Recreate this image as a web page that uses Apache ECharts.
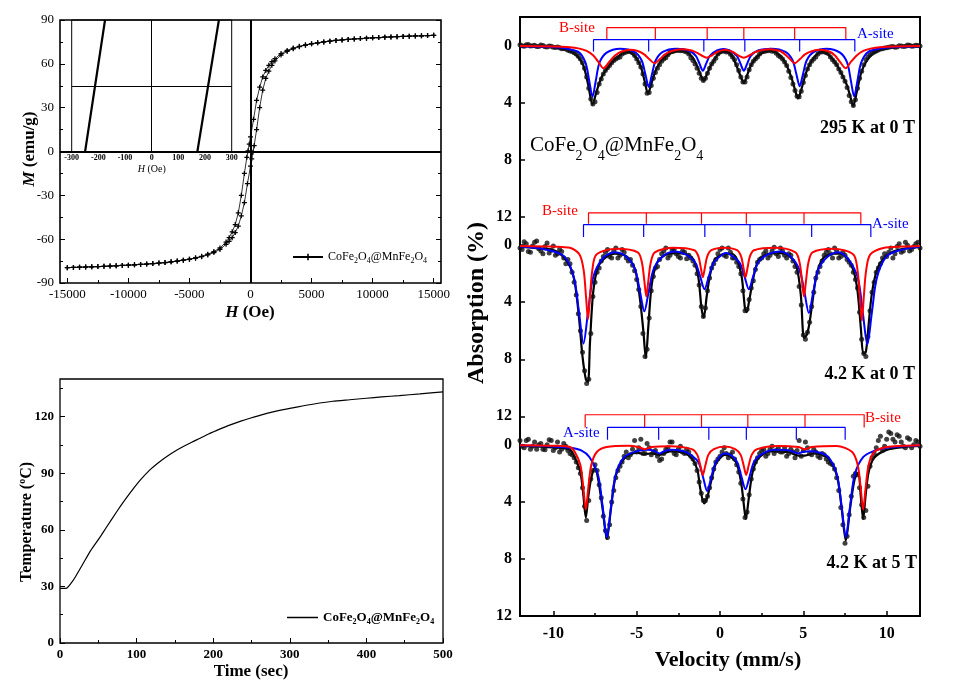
<!DOCTYPE html>
<html><head><meta charset="utf-8">
<script src="https://cdn.jsdelivr.net/npm/echarts@6/dist/echarts.min.js"></script>
<style>html,body{margin:0;padding:0;background:#fff}#c{width:960px;height:688px}</style>
</head><body><div id="c"></div>
<script>
// ---------- Panel (a): M-H hysteresis ----------
const hUpper = [15000,14500,14000,13500,13000,12500,12000,11500,11000,10500,10000,9500,9000,8500,8000,7500,7000,6500,6000,5500,5000,4500,4000,3500,3000,2500,2000,1750,1500,1250,1000,750,500,250,0,-100,-200,-300,-500,-750,-1000,-1250,-1500,-1750,-2000,-2500,-3000,-3500,-4000,-4500,-5000,-5500,-6000,-6500,-7000,-7500,-8000,-8500,-9000,-9500,-10000,-10500,-11000,-11500,-12000,-12500,-13000,-13500,-14000,-14500,-15000];
const mUpper = [79.5,79.35,79.2,79.05,78.9,78.75,78.6,78.4,78.2,78.0,77.8,77.55,77.3,77.0,76.7,76.35,76.0,75.5,75.0,74.4,73.8,73.0,72.0,70.8,69.2,67.0,63.5,61.5,59,55.5,51,44,35,22,10,5,0.5,-4,-15,-30,-42,-50,-55,-59,-62,-66,-68.5,-70.3,-71.7,-72.8,-73.7,-74.4,-75.0,-75.5,-76.0,-76.35,-76.7,-77.0,-77.3,-77.55,-77.8,-78.0,-78.2,-78.4,-78.6,-78.75,-78.9,-79.05,-79.2,-79.35,-79.5];
const hLower = [-15000,-14500,-14000,-13500,-13000,-12500,-12000,-11500,-11000,-10500,-10000,-9500,-9000,-8500,-8000,-7500,-7000,-6500,-6000,-5500,-5000,-4500,-4000,-3500,-3000,-2500,-2000,-1750,-1500,-1250,-1000,-750,-500,-250,0,100,200,300,500,750,1000,1250,1500,1750,2000,2500,3000,3500,4000,4500,5000,5500,6000,6500,7000,7500,8000,8500,9000,9500,10000,10500,11000,11500,12000,12500,13000,13500,14000,14500,15000];
const mLower = [-79.5,-79.35,-79.2,-79.05,-78.9,-78.75,-78.6,-78.4,-78.2,-78.0,-77.8,-77.55,-77.3,-77.0,-76.7,-76.35,-76.0,-75.5,-75.0,-74.4,-73.8,-73.0,-72.0,-70.8,-69.2,-67.0,-63.5,-61.5,-59,-55.5,-51,-44,-35,-22,-10,-5,-0.5,4,15,30,42,50,55,59,62,66,68.5,70.3,71.7,72.8,73.7,74.4,75.0,75.5,76.0,76.35,76.7,77.0,77.3,77.55,77.8,78.0,78.2,78.4,78.6,78.75,78.9,79.05,79.2,79.35,79.5];
const hTicks = [-15000,-10000,-5000,0,5000,10000,15000];
const hMinorTicks = [-12500,-7500,-2500,2500,7500,12500];
// inset (zoom on coercive field)
const insetLeftH = [-250,-175];
const insetRightH = [171,252];
const insetM = [-10,10];

// ---------- Panel (b): heating curve ----------
const timeSec = [0,8,15,20,30,40,52,60,74,85,96,105,117,128,139,150,161,172,183,194,204,215,226,237,248,260,270,285,300,318,335,356,378,400,420,443,470,500];
const tempC = [29,29,32,35,42,49,56,61,69.6,76,82,86.5,91.7,95.5,98.8,101.7,104.2,106.5,108.6,110.8,112.6,114.5,116.2,117.8,119.2,120.6,121.8,123.2,124.4,125.8,127,128.2,129,129.8,130.5,131.2,132.1,133.2];
const tempTicks = [0,30,60,90,120];
const tempMinorTicks = [15,45,75,105,135];

// ---------- Panel (c): Mossbauer spectra ----------
const velocity = [-12,-11.75,-11.5,-11.25,-11,-10.75,-10.5,-10.25,-10,-9.75,-9.5,-9.25,-9,-8.75,-8.5,-8.25,-8,-7.75,-7.5,-7.25,-7,-6.75,-6.5,-6.25,-6,-5.75,-5.5,-5.25,-5,-4.75,-4.5,-4.25,-4,-3.75,-3.5,-3.25,-3,-2.75,-2.5,-2.25,-2,-1.75,-1.5,-1.25,-1,-0.75,-0.5,-0.25,0,0.25,0.5,0.75,1,1.25,1.5,1.75,2,2.25,2.5,2.75,3,3.25,3.5,3.75,4,4.25,4.5,4.75,5,5.25,5.5,5.75,6,6.25,6.5,6.75,7,7.25,7.5,7.75,8,8.25,8.5,8.75,9,9.25,9.5,9.75,10,10.25,10.5,10.75,11,11.25,11.5,11.75,12];
const velocityHalf = [
 -11.875,-11.625,-11.375,-11.125,-10.875,-10.625,-10.375,-10.125,
 -9.875,-9.625,-9.375,-9.125,-8.875,-8.625,-8.375,-8.125,
 -7.875,-7.625,-7.375,-7.125,-6.875,-6.625,-6.375,-6.125,
 -5.875,-5.625,-5.375,-5.125,-4.875,-4.625,-4.375,-4.125,
 -3.875,-3.625,-3.375,-3.125,-2.875,-2.625,-2.375,-2.125,
 -1.875,-1.625,-1.375,-1.125,-0.875,-0.625,-0.375,-0.125,
 0.125,0.375,0.625,0.875,1.125,1.375,1.625,1.875,
 2.125,2.375,2.625,2.875,3.125,3.375,3.625,3.875,
 4.125,4.375,4.625,4.875,5.125,5.375,5.625,5.875,
 6.125,6.375,6.625,6.875,7.125,7.375,7.625,7.875,
 8.125,8.375,8.625,8.875,9.125,9.375,9.625,9.875,
 10.125,10.375,10.625,10.875,11.125,11.375,11.625,11.875];
const dots295K = [-0.05,0.05,-0.08,0.02,0.06,-0.04,0.08,0.03,0.12,0.1,0.22,0.25,0.38,0.5,0.75,1.2,2.2,3.75,3.95,2.7,2.0,1.55,1.2,0.95,0.8,0.5,0.4,0.5,0.95,1.5,2.7,3.3,2.3,1.6,1.1,0.85,0.45,0.38,0.33,0.35,0.45,0.85,1.3,1.95,2.45,1.95,1.3,0.9,0.45,0.38,0.42,0.8,1.35,2.2,2.55,1.7,1.1,0.8,0.45,0.38,0.33,0.38,0.7,0.95,1.4,2.25,3.15,3.6,2.6,1.65,1.1,0.8,0.45,0.42,0.55,1.0,1.35,1.9,2.5,3.5,4.2,3.0,1.8,1.0,0.65,0.45,0.32,0.22,0.15,0.08,0.12,0.02,0.06,-0.04,0.05,-0.02,0.04];
const dots295KHalf = [
 0.02,-0.06,0.04,-0.02,0.07,0.0,0.1,0.05,
 0.14,0.16,0.2,0.33,0.42,0.6,0.95,1.6,
 3.0,4.1,3.3,2.35,1.75,1.4,1.05,0.85,
 0.6,0.45,0.42,0.7,1.2,2.0,3.35,2.8,
 1.9,1.35,0.95,0.65,0.42,0.35,0.37,0.4,
 0.6,1.05,1.6,2.3,2.3,1.6,1.1,0.6,
 0.4,0.45,0.62,1.0,1.75,2.55,2.2,1.35,
 0.95,0.6,0.42,0.36,0.4,0.55,0.8,1.15,
 1.8,2.7,3.55,3.2,2.1,1.35,0.95,0.6,
 0.45,0.5,0.8,1.15,1.65,2.2,2.95,3.95,
 3.8,2.3,1.35,0.8,0.55,0.38,0.25,0.18,
 0.12,0.06,0.1,0.03,0.05,-0.02,0.03,0.0];
const dots42K0T = [0.2,-0.25,0.45,0.05,-0.3,0.4,0.1,0.55,0.05,0.6,0.45,1.3,1.3,2.6,4.8,7.5,9.7,6.2,2.6,1.6,0.8,0.3,0.9,0.2,0.7,0.5,1.1,1.4,2.4,4.3,7.8,5.1,2.2,1.5,0.6,0.2,0.7,0.3,0.8,0.4,0.95,0.9,1.4,2.8,5.0,3.2,1.6,1.0,0.3,0.7,0.2,0.9,1.2,2.0,4.6,3.8,2.5,1.2,0.9,0.4,0.7,0.15,0.8,0.4,0.9,0.7,1.5,2.9,6.3,6.1,4.3,2.3,1.5,0.7,0.3,0.9,0.4,0.8,0.7,1.2,1.9,3.0,6.6,7.8,4.6,2.6,1.6,0.9,0.8,0.2,0.6,-0.1,0.4,0.0,0.3,-0.1,0.2];
const dots42K0THalf = [
 0.3,-0.1,0.5,-0.2,0.25,0.6,-0.15,0.35,
 0.7,0.3,0.9,1.0,1.9,3.5,6.0,8.8,
 9.4,3.6,1.9,1.1,0.5,0.8,0.4,0.9,
 0.3,0.9,1.0,1.8,3.1,6.2,7.3,3.2,
 1.6,1.0,0.4,0.9,0.3,0.6,0.9,0.5,
 0.7,1.1,2.0,4.3,4.4,2.3,1.3,0.6,
 0.2,0.8,0.5,0.9,1.5,3.2,4.5,3.0,
 1.7,1.0,0.6,0.9,0.4,0.6,0.2,0.7,
 0.6,1.1,1.9,4.2,6.6,5.4,3.3,1.9,
 1.1,0.5,0.6,0.2,0.9,0.5,1.0,1.4,
 2.4,4.7,7.6,6.4,3.3,1.9,1.3,0.6,
 0.5,0.9,0.1,0.5,-0.2,0.4,0.1,-0.2];
const dots42K5T = [-0.3,0.2,-0.4,0.1,0.3,-0.1,0.35,-0.35,0.4,-0.2,0.3,0.1,0.6,0.9,1.6,3.0,5.3,2.4,1.4,2.8,5.0,6.5,4.0,2.3,1.5,0.8,0.9,0.3,0.5,-0.4,0.6,0.2,0.5,0.8,1.0,0.3,-0.2,0.6,0.3,0.5,0.3,0.8,1.3,2.6,3.9,3.6,2.3,1.2,0.8,0.2,0.9,0.5,1.4,2.7,5.1,3.5,1.7,0.9,0.4,0.8,0.3,0.6,0.2,0.5,0.8,0.3,0.9,-0.3,0.4,0.2,0.7,0.5,0.9,0.7,1.2,1.4,2.3,4.4,6.9,4.9,2.2,2.1,4.2,4.6,1.5,0.6,-0.3,0.4,-0.4,-0.8,-0.2,-0.6,0.1,-0.5,0.2,-0.3,0.1];
const dots42K5THalf = [
 0.1,-0.3,0.3,-0.2,0.0,0.3,0.0,-0.3,
 0.2,0.5,-0.1,0.4,0.7,1.2,2.0,4.3,
 3.9,1.8,1.8,3.7,6.0,5.6,3.2,1.8,
 1.2,0.5,0.7,-0.3,0.2,0.6,-0.1,0.7,
 0.4,1.1,0.6,0.2,-0.2,0.7,0.1,0.6,
 0.5,1.0,1.8,3.4,3.9,3.0,1.7,1.0,
 0.5,0.6,0.7,1.0,1.9,3.8,4.7,2.4,
 1.2,0.6,0.3,0.6,0.1,0.4,0.5,0.2,
 0.6,0.5,0.4,0.8,-0.2,0.6,0.3,0.8,
 0.6,1.0,1.3,1.7,3.2,5.6,6.4,3.6,
 2.0,3.0,5.1,2.9,0.9,0.2,-0.6,0.1,
 -0.9,-0.4,-0.7,-0.2,0.2,-0.4,0.0,-0.2];

const fit295K = [[-12,0.05],[-10,0.12],[-9.2,0.3],[-8.6,0.7],[-8.2,1.4],[-7.9,2.8],[-7.65,4.14],[-7.4,3.2],[-7.1,2.2],[-6.7,1.5],[-6.2,0.85],[-5.6,0.45],[-5.1,0.75],[-4.75,1.5],[-4.52,2.5],[-4.32,3.38],[-4.1,2.6],[-3.8,1.6],[-3.4,0.9],[-2.9,0.5],[-2.3,0.35],[-1.7,0.75],[-1.35,1.5],[-1.15,2.1],[-0.97,2.46],[-0.78,2.0],[-0.5,1.3],[-0.1,0.6],[0.3,0.4],[0.7,0.7],[1.05,1.6],[1.25,2.2],[1.43,2.62],[1.62,2.1],[1.9,1.3],[2.3,0.7],[3.0,0.35],[3.6,0.7],[4.0,1.4],[4.3,2.3],[4.5,3.1],[4.68,3.72],[4.9,3.0],[5.2,1.8],[5.6,0.9],[6.1,0.45],[6.6,0.75],[7.0,1.35],[7.35,2.1],[7.62,2.8],[7.8,3.5],[7.99,4.23],[8.2,3.3],[8.5,1.8],[8.9,0.9],[9.4,0.4],[10.2,0.15],[12,0.05]];
const bSite295K = [[-12,0.03],[-10,0.06],[-9,0.12],[-8.5,0.2],[-8,0.38],[-7.6,0.7],[-7.3,1.15],[-6.99,1.59],[-6.65,1.15],[-6.3,0.7],[-5.9,0.42],[-5.4,0.3],[-4.9,0.4],[-4.55,0.62],[-4.25,0.95],[-3.92,1.24],[-3.6,0.95],[-3.3,0.62],[-2.9,0.38],[-2.3,0.26],[-1.7,0.35],[-1.4,0.5],[-1.1,0.7],[-0.81,0.85],[-0.5,0.7],[-0.2,0.47],[0.3,0.3],[0.8,0.47],[1.1,0.7],[1.43,0.85],[1.75,0.7],[2.05,0.5],[2.4,0.35],[3.0,0.26],[3.6,0.38],[3.9,0.62],[4.2,0.95],[4.48,1.24],[4.8,0.95],[5.1,0.62],[5.5,0.4],[6.0,0.3],[6.55,0.42],[6.9,0.7],[7.2,1.15],[7.54,1.59],[7.85,1.15],[8.2,0.7],[8.6,0.38],[9.1,0.2],[9.6,0.12],[10.5,0.06],[12,0.03]];
const aSite295K = [[-12,0.05],[-10,0.1],[-9.3,0.2],[-8.5,0.45],[-8.07,1.2],[-7.85,2.45],[-7.65,3.6],[-7.45,2.45],[-7.23,1.2],[-6.8,0.5],[-6.0,0.22],[-5.13,0.45],[-4.7,1.05],[-4.48,2.0],[-4.28,2.9],[-4.08,2.0],[-3.86,1.05],[-3.43,0.45],[-2.65,0.22],[-1.88,0.35],[-1.45,0.72],[-1.23,1.27],[-1.03,1.77],[-0.83,1.27],[-0.61,0.72],[-0.18,0.35],[0.2,0.25],[0.58,0.35],[1.01,0.72],[1.23,1.27],[1.43,1.77],[1.63,1.27],[1.85,0.72],[2.28,0.35],[3.1,0.22],[3.93,0.45],[4.36,1.05],[4.58,2.0],[4.78,2.85],[4.98,2.0],[5.2,1.05],[5.63,0.45],[6.4,0.22],[7.2,0.5],[7.63,1.2],[7.85,2.45],[8.05,3.56],[8.25,2.45],[8.47,1.2],[8.9,0.45],[9.7,0.2],[10.5,0.1],[12,0.05]];

const fit42K0T = [[-12,0.12],[-11,0.2],[-10,0.35],[-9.5,0.7],[-9.0,1.5],[-8.7,2.7],[-8.45,5.2],[-8.25,7.8],[-8.05,9.4],[-7.92,9.6],[-7.8,6.8],[-7.6,3.2],[-7.3,1.5],[-6.8,0.8],[-6.3,0.6],[-5.6,0.8],[-5.1,1.7],[-4.8,3.8],[-4.6,6.0],[-4.45,7.9],[-4.3,5.7],[-4.1,2.8],[-3.8,1.3],[-3.3,0.7],[-2.7,0.55],[-2.1,0.6],[-1.6,1.0],[-1.3,2.25],[-1.1,4.5],[-0.97,5.05],[-0.8,3.6],[-0.6,2.1],[-0.3,1.0],[0.3,0.6],[0.7,0.6],[1.0,0.95],[1.3,2.2],[1.5,4.45],[1.6,4.7],[1.75,3.9],[2.0,2.3],[2.3,1.1],[2.9,0.6],[3.6,0.55],[4.2,0.8],[4.6,1.55],[4.85,3.5],[5.04,6.5],[5.2,6.3],[5.35,5.6],[5.55,3.95],[5.8,2.05],[6.2,0.9],[6.8,0.6],[7.2,0.6],[7.6,0.85],[8.0,1.75],[8.25,3.2],[8.45,5.8],[8.6,7.6],[8.75,7.5],[8.9,5.8],[9.1,3.5],[9.4,1.8],[9.8,0.95],[10.4,0.45],[11,0.25],[12,0.12]];
const bSite42K0T = [[-12,0.05],[-10,0.1],[-9,0.18],[-8.43,0.65],[-8.18,1.75],[-8.04,3.6],[-7.92,5.2],[-7.8,3.6],[-7.66,1.75],[-7.41,0.65],[-6.2,0.25],[-4.93,0.5],[-4.68,1.25],[-4.54,2.5],[-4.42,3.6],[-4.3,2.5],[-4.16,1.25],[-3.91,0.5],[-2.8,0.18],[-1.54,0.35],[-1.29,0.8],[-1.15,1.6],[-1.03,2.25],[-0.91,1.6],[-0.77,0.8],[-0.52,0.35],[0.25,0.18],[1.02,0.35],[1.27,0.8],[1.41,1.6],[1.53,2.25],[1.65,1.6],[1.79,0.8],[2.04,0.35],[3.3,0.18],[4.53,0.5],[4.78,1.25],[4.92,2.5],[5.04,3.6],[5.16,2.5],[5.3,1.25],[5.55,0.5],[6.8,0.25],[8.0,0.65],[8.25,1.75],[8.39,3.6],[8.51,5.3],[8.63,3.6],[8.77,1.75],[9.02,0.65],[9.8,0.2],[11,0.1],[12,0.05]];
const aSite42K0T = [[-12,0.1],[-10.5,0.3],[-9.33,0.8],[-8.76,2.3],[-8.46,4.7],[-8.19,6.9],[-7.92,4.7],[-7.62,2.3],[-7.05,0.95],[-6.35,0.5],[-5.68,0.75],[-5.11,1.65],[-4.81,3.2],[-4.54,4.64],[-4.27,3.2],[-3.97,1.65],[-3.4,0.75],[-2.7,0.45],[-2.07,0.65],[-1.5,1.2],[-1.2,2.15],[-0.93,3.09],[-0.66,2.15],[-0.36,1.2],[0.21,0.6],[0.4,0.55],[0.59,0.65],[1.16,1.2],[1.46,2.15],[1.73,3.09],[2.0,2.15],[2.3,1.2],[2.87,0.65],[3.55,0.45],[4.19,0.75],[4.76,1.7],[5.06,3.25],[5.33,4.76],[5.6,3.25],[5.9,1.7],[6.47,0.8],[7.1,0.5],[7.7,1.0],[8.27,2.3],[8.57,4.75],[8.84,6.96],[9.11,4.75],[9.41,2.3],[9.98,0.8],[10.8,0.35],[12,0.1]];

const fit42K5T = [[-12,0.07],[-10,0.18],[-9,0.35],[-8.71,0.9],[-8.38,1.9],[-8.2,3.5],[-8.05,5.1],[-7.9,3.6],[-7.72,2.3],[-7.5,1.6],[-7.32,2.35],[-7.04,4.5],[-6.79,6.6],[-6.54,4.45],[-6.26,2.2],[-5.74,0.95],[-5.0,0.55],[-4.52,0.65],[-4.1,0.6],[-3.63,0.7],[-3.0,0.45],[-2.2,0.55],[-1.69,0.95],[-1.36,1.75],[-1.18,3.1],[-0.95,4.1],[-0.77,3.7],[-0.52,2.5],[-0.24,1.3],[0.28,0.7],[0.6,0.8],[1.0,1.3],[1.28,2.75],[1.45,4.4],[1.55,5.2],[1.72,3.8],[1.95,1.95],[2.3,0.95],[3.0,0.45],[4.1,0.5],[4.7,0.75],[5.1,0.75],[5.6,0.6],[6.0,0.65],[6.5,0.95],[7.02,2.2],[7.3,4.45],[7.55,6.7],[7.8,4.5],[8.08,2.4],[8.3,1.95],[8.44,3.5],[8.59,5.2],[8.74,3.5],[8.92,1.9],[9.25,0.9],[10,0.35],[11,0.15],[12,0.07]];
const bSite42K5T = [[-12,0.02],[-10,0.06],[-9,0.15],[-8.71,0.5],[-8.38,1.4],[-8.2,3.0],[-8.05,4.53],[-7.9,3.0],[-7.72,1.4],[-7.39,0.5],[-6.8,0.15],[-5.5,0.06],[-4.9,0.15],[-4.52,0.3],[-4.1,0.15],[-3.0,0.1],[-1.69,0.3],[-1.36,0.7],[-1.18,1.45],[-1.03,2.11],[-0.88,1.45],[-0.7,0.7],[-0.37,0.3],[0.3,0.12],[0.91,0.3],[1.24,0.7],[1.42,1.45],[1.57,2.11],[1.72,1.45],[1.9,0.7],[2.23,0.3],[3.5,0.08],[4.7,0.15],[5.1,0.3],[5.5,0.15],[7.0,0.08],[7.93,0.5],[8.26,1.4],[8.44,3.0],[8.59,4.53],[8.74,3.0],[8.92,1.4],[9.25,0.5],[10,0.15],[11,0.06],[12,0.02]];
const aSite42K5T = [[-12,0.05],[-10,0.12],[-9,0.2],[-8.3,0.4],[-7.84,0.85],[-7.32,2.1],[-7.04,4.35],[-6.79,6.48],[-6.54,4.35],[-6.26,2.1],[-5.74,0.85],[-5.0,0.45],[-4.3,0.35],[-3.9,0.45],[-3.63,0.6],[-3.36,0.45],[-2.9,0.35],[-2.2,0.45],[-1.82,0.65],[-1.3,1.2],[-1.02,2.25],[-0.77,3.24],[-0.52,2.25],[-0.24,1.2],[0.28,0.6],[0.48,0.62],[1.0,1.15],[1.28,2.2],[1.53,3.12],[1.78,2.2],[2.06,1.15],[2.58,0.6],[3.3,0.35],[4.1,0.38],[4.45,0.5],[4.7,0.6],[4.95,0.5],[5.4,0.45],[6.0,0.55],[6.5,0.85],[7.02,2.1],[7.3,4.35],[7.55,6.48],[7.8,4.35],[8.08,2.1],[8.6,0.85],[9.3,0.4],[10,0.2],[11,0.1],[12,0.05]];

// stick diagrams (line positions, mm/s) and bracket levels [top, bottom] in % absorption
const sticksB295K = [-6.79,-3.88,-0.77,1.43,4.48,7.55];
const sticksA295K = [-7.59,-4.28,-0.97,1.49,4.78,8.09];
const sticksB42K0T = [-7.89,-4.42,-1.11,1.58,5.04,8.45];
const sticksA42K0T = [-8.19,-4.58,-0.91,1.8,5.5,9.05];
const sticksB42K5T = [-8.09,-4.52,-1.11,1.67,5.1,8.65];
const sticksA42K5T = [-6.75,-3.68,-0.67,1.58,4.58,7.51];
const levelsB295K = [-1.26,-0.46], levelsA295K = [-0.41,0.42];
const levelsB42K0T = [-2.27,-1.51], levelsA42K0T = [-1.44,-0.58];
const levelsB42K5T = [-2.11,-1.22], levelsA42K5T = [-1.22,-0.35];

const spectrumOffsets = [0,14,28];
const absTickValues = [0,4,8,12,14,18,22,26,28,32,36,40];
const absTickText = ['0','4','8','12','0','4','8','12','0','4','8','12'];
const velTicks = [-10,-5,0,5,10];
const velMinorTicks = [-7.5,-2.5,2.5,7.5];

// ---------- build ----------
const FONT = '"Liberation Serif","Times New Roman",serif';
const RED = '#ff0000', BLUE = '#0000ff';
const loopData = hUpper.map((h,i)=>[h,mUpper[i]]).concat(hLower.map((h,i)=>[h,mLower[i]]));
const heatData = timeSec.map((t,i)=>[t,tempC[i]]);
const shift = (pairs, off) => pairs.map(p=>[p[0], p[1]+off]);
const dotsOf = (grid, vals, off) => grid.map((v,i)=>[v, vals[i]+off]).filter(p=>isFinite(p[1]));
function bracket(pos, lv, off){
  const pts=[];
  pos.forEach((p,i)=>{ if(i===0){pts.push([p,lv[1]+off],[p,lv[0]+off]);} else {pts.push([p,lv[0]+off],[p,lv[1]+off],[p,lv[0]+off]);} });
  return pts;
}
const PLUS = 'path://M3,0h2v8h-2zM0,3h8v2h-8z';
const lblCommon = {fontFamily:FONT,color:'#000'};

const spectra = [
  {dots:dots295K, dotsH:dots295KHalf, fit:fit295K, b:bSite295K, a:aSite295K, sb:sticksB295K, sa:sticksA295K, lb:levelsB295K, la:levelsA295K},
  {dots:dots42K0T, dotsH:dots42K0THalf, fit:fit42K0T, b:bSite42K0T, a:aSite42K0T, sb:sticksB42K0T, sa:sticksA42K0T, lb:levelsB42K0T, la:levelsA42K0T},
  {dots:dots42K5T, dotsH:dots42K5THalf, fit:fit42K5T, b:bSite42K5T, a:aSite42K5T, sb:sticksB42K5T, sa:sticksA42K5T, lb:levelsB42K5T, la:levelsA42K5T}
];
const specSeries = [];
spectra.forEach((s,k)=>{
  const off = spectrumOffsets[k];
  const ax = {xAxisIndex:4, yAxisIndex:5, silent:true, animation:false};
  specSeries.push(Object.assign({type:'line', name:'fit'+k, data:shift(s.fit,off), smooth:0.3, symbol:'none', lineStyle:{color:'#000', width:2.2}, z:2}, ax));
  specSeries.push(Object.assign({type:'scatter', name:'data'+k, data:dotsOf(velocity,s.dots,off).concat(dotsOf(velocityHalf,s.dotsH,off)), symbolSize:5, itemStyle:{color:'#111'}, z:3}, ax));
  specSeries.push(Object.assign({type:'line', name:'A'+k, data:shift(s.a,off), smooth:0.3, symbol:'none', lineStyle:{color:BLUE, width:2}, z:4}, ax));
  specSeries.push(Object.assign({type:'line', name:'B'+k, data:shift(s.b,off), smooth:0.3, symbol:'none', lineStyle:{color:RED, width:2}, z:5}, ax));
  specSeries.push(Object.assign({type:'line', name:'sticksB'+k, data:bracket(s.sb,s.lb,off), symbol:'none', lineStyle:{color:RED, width:1.2}, z:5}, ax));
  specSeries.push(Object.assign({type:'line', name:'sticksA'+k, data:bracket(s.sa,s.la,off), symbol:'none', lineStyle:{color:BLUE, width:1.2}, z:5}, ax));
});

const chemRich = (size, sub, lh, bold) => ({
  n:{fontFamily:FONT, fontSize:size, lineHeight:lh, color:'#000', fontWeight:bold?'bold':'normal'},
  s:{fontFamily:FONT, fontSize:sub, lineHeight:sub, verticalAlign:'bottom', color:'#000', fontWeight:bold?'bold':'normal'}
});
const chemText = '{n|CoFe}{s|2}{n|O}{s|4}{n|@MnFe}{s|2}{n|O}{s|4}';
const noLine = {show:false, onZero:false};

const option = {
  animation:false,
  backgroundColor:'#fff',
  grid:[
    {left:60, top:20, width:381, height:263, show:true, borderColor:'#000', borderWidth:1.6},
    {left:71.7, top:20, width:160, height:132, show:true, borderColor:'#000', borderWidth:1, backgroundColor:'transparent'},
    {left:60, top:379, width:383, height:264, show:true, borderColor:'#000', borderWidth:1.3},
    {left:520, top:17, width:400, height:599, show:true, borderColor:'#000', borderWidth:2}
  ],
  legend:[
    {data:['loop'], left:287, top:246, itemWidth:30, itemHeight:8, itemGap:4, selectedMode:false,
     formatter:()=>chemText, textStyle:{rich:chemRich(12,8,16,false)}},
    {data:['heating'], left:282, top:606, itemWidth:31, itemHeight:1.5, selectedMode:false, icon:'rect',
     formatter:()=>chemText, textStyle:{rich:chemRich(13,8,17,true)}}
  ],
  xAxis:[
    {gridIndex:0, type:'value', position:'bottom', min:-15600, max:15600, axisLine:noLine, splitLine:{show:false},
     axisTick:{inside:true, length:5, customValues:hTicks, lineStyle:{color:'#000'}},
     axisLabel:Object.assign({customValues:hTicks, fontSize:13, margin:5, formatter:(v)=>String(v)}, lblCommon)},
    {gridIndex:0, type:'value', position:'bottom', min:-15600, max:15600, axisLine:noLine, splitLine:{show:false},
     axisTick:{inside:true, length:3, customValues:hMinorTicks, lineStyle:{color:'#000'}}, axisLabel:{show:false}},
    {gridIndex:1, type:'value', position:'bottom', min:-300, max:300, interval:100, axisLine:noLine, splitLine:{show:false}, axisTick:{show:false},
     axisLabel:Object.assign({fontSize:8, fontWeight:'bold', margin:2}, lblCommon),
     name:'{i|H} (Oe)', nameLocation:'middle', nameGap:12,
     nameTextStyle:{fontFamily:FONT, fontSize:10, color:'#000', rich:{i:{fontFamily:FONT, fontSize:10, fontStyle:'italic', color:'#000'}}}},
    {gridIndex:2, type:'value', position:'bottom', min:0, max:500, interval:100, axisLine:noLine, splitLine:{show:false},
     axisTick:{inside:true, length:5, lineStyle:{color:'#000'}}, minorTick:{show:true, splitNumber:2, length:3, lineStyle:{color:'#000'}},
     axisLabel:Object.assign({fontSize:13, fontWeight:'bold', margin:5}, lblCommon)},
    {gridIndex:3, type:'value', position:'bottom', min:-12, max:12, axisLine:noLine, splitLine:{show:false},
     axisTick:{inside:true, length:5, customValues:velTicks, lineStyle:{color:'#000', width:1.5}},
     axisLabel:Object.assign({customValues:velTicks, fontSize:16, fontWeight:'bold', margin:10}, lblCommon)},
    {gridIndex:3, type:'value', position:'bottom', min:-12, max:12, axisLine:noLine, splitLine:{show:false},
     axisTick:{inside:true, length:3, customValues:velMinorTicks, lineStyle:{color:'#000', width:1.5}}, axisLabel:{show:false}}
  ],
  yAxis:[
    {gridIndex:0, type:'value', position:'left', min:-90, max:90, interval:30, axisLine:noLine, splitLine:{show:false},
     axisTick:{inside:true, length:5, lineStyle:{color:'#000'}}, minorTick:{show:true, splitNumber:2, length:3, lineStyle:{color:'#000'}},
     axisLabel:Object.assign({fontSize:13, margin:6}, lblCommon)},
    {gridIndex:0, type:'value', position:'right', min:-90, max:90, interval:30, axisLine:noLine, splitLine:{show:false},
     axisTick:{inside:true, length:5, lineStyle:{color:'#000'}}, minorTick:{show:true, splitNumber:2, length:3, lineStyle:{color:'#000'}},
     axisLabel:{show:false}},
    {gridIndex:1, type:'value', position:'left', min:-10, max:10, axisLine:noLine, splitLine:{show:false}, axisTick:{show:false}, axisLabel:{show:false}},
    {gridIndex:2, type:'value', position:'left', min:0, max:140, axisLine:noLine, splitLine:{show:false},
     axisTick:{inside:true, length:5, customValues:tempTicks, lineStyle:{color:'#000'}},
     axisLabel:Object.assign({customValues:tempTicks, fontSize:13, fontWeight:'bold', margin:6}, lblCommon)},
    {gridIndex:2, type:'value', position:'left', min:0, max:140, axisLine:noLine, splitLine:{show:false},
     axisTick:{inside:true, length:3, customValues:tempMinorTicks, lineStyle:{color:'#000'}}, axisLabel:{show:false}},
    {gridIndex:3, type:'value', position:'left', inverse:true, min:-2, max:40, axisLine:noLine, splitLine:{show:false},
     axisTick:{inside:true, length:5, customValues:absTickValues, lineStyle:{color:'#000', width:1.5}},
     axisLabel:Object.assign({customValues:absTickValues, fontSize:16, fontWeight:'bold', margin:8,
       formatter:(v)=>{const i=absTickValues.findIndex(t=>Math.abs(t-v)<1e-6); return i>=0?absTickText[i]:'';}}, lblCommon)}
  ],
  series:[
    {type:'line', name:'loop', xAxisIndex:0, yAxisIndex:0, data:loopData, symbol:PLUS, symbolSize:5, showSymbol:true,
     lineStyle:{color:'#000', width:0.8}, itemStyle:{color:'#000'}, z:3,
     markLine:{silent:true, symbol:'none', label:{show:false}, lineStyle:{color:'#000', width:2, type:'solid'}, data:[{xAxis:0},{yAxis:0}]}},
    {type:'line', name:'insetL', xAxisIndex:2, yAxisIndex:2, data:insetLeftH.map((h,i)=>[h,insetM[i]]), symbol:'none',
     lineStyle:{color:'#000', width:2.2}, z:4,
     markLine:{silent:true, symbol:'none', label:{show:false}, lineStyle:{color:'#000', width:1, type:'solid'}, data:[{xAxis:0},{yAxis:0}]}},
    {type:'line', name:'insetR', xAxisIndex:2, yAxisIndex:2, data:insetRightH.map((h,i)=>[h,insetM[i]]), symbol:'none',
     lineStyle:{color:'#000', width:2.2}, z:4},
    {type:'line', name:'heating', xAxisIndex:3, yAxisIndex:3, data:heatData, symbol:'none', smooth:0.2,
     lineStyle:{color:'#000', width:1.2}, itemStyle:{color:'#000'}},
  ].concat(specSeries),
  graphic:[
    {type:'text', x:30, y:149, rotation:Math.PI/2, style:{text:'{i|M} (emu/g)', align:'center', verticalAlign:'middle',
      rich:{i:{fontFamily:FONT, fontSize:17, fontWeight:'bold', fontStyle:'italic', fill:'#000'}},
      fontFamily:FONT, fontSize:17, fontWeight:'bold', fill:'#000'}},
    {type:'text', x:250, y:313, style:{text:'{i|H} (Oe)', align:'center', verticalAlign:'middle',
      rich:{i:{fontFamily:FONT, fontSize:17, fontWeight:'bold', fontStyle:'italic', fill:'#000'}},
      fontFamily:FONT, fontSize:17, fontWeight:'bold', fill:'#000'}},
    {type:'text', x:27, y:522, rotation:Math.PI/2, style:{text:'{n|Temperature (}{u|o}{n|C)}', align:'center', verticalAlign:'middle',
      rich:{n:{fontFamily:FONT, fontSize:16, fontWeight:'bold', fill:'#000', lineHeight:20}, u:{fontFamily:FONT, fontSize:10, fontWeight:'bold', fill:'#000', verticalAlign:'top', lineHeight:10}}}},
    {type:'text', x:251, y:672, style:{text:'Time (sec)', align:'center', verticalAlign:'middle', fontFamily:FONT, fontSize:17, fontWeight:'bold', fill:'#000'}},
    {type:'text', x:477, y:303, rotation:Math.PI/2, style:{text:'Absorption (%)', align:'center', verticalAlign:'middle', fontFamily:FONT, fontSize:24, fontWeight:'bold', fill:'#000'}},
    {type:'text', x:728, y:660, style:{text:'Velocity (mm/s)', align:'center', verticalAlign:'middle', fontFamily:FONT, fontSize:22, fontWeight:'bold', fill:'#000'}},
    {type:'text', x:530, y:145, style:{text:chemText, verticalAlign:'middle',
      rich:{n:{fontFamily:FONT, fontSize:21, lineHeight:36, fill:'#000'}, s:{fontFamily:FONT, fontSize:14, lineHeight:14, verticalAlign:'bottom', fill:'#000'}}}},
    {type:'text', x:915, y:128, style:{text:'295 K at 0 T', align:'right', verticalAlign:'middle', fontFamily:FONT, fontSize:18, fontWeight:'bold', fill:'#000'}},
    {type:'text', x:915, y:374, style:{text:'4.2 K at 0 T', align:'right', verticalAlign:'middle', fontFamily:FONT, fontSize:18, fontWeight:'bold', fill:'#000'}},
    {type:'text', x:917, y:563, style:{text:'4.2 K at 5 T', align:'right', verticalAlign:'middle', fontFamily:FONT, fontSize:18, fontWeight:'bold', fill:'#000'}},
    {type:'text', x:559, y:28, style:{text:'B-site', verticalAlign:'middle', fontFamily:FONT, fontSize:15, fill:RED}},
    {type:'text', x:857, y:34, style:{text:'A-site', verticalAlign:'middle', fontFamily:FONT, fontSize:15, fill:BLUE}},
    {type:'text', x:542, y:211, style:{text:'B-site', verticalAlign:'middle', fontFamily:FONT, fontSize:15, fill:RED}},
    {type:'text', x:872, y:224, style:{text:'A-site', verticalAlign:'middle', fontFamily:FONT, fontSize:15, fill:BLUE}},
    {type:'text', x:563, y:433, style:{text:'A-site', verticalAlign:'middle', fontFamily:FONT, fontSize:15, fill:BLUE}},
    {type:'text', x:865, y:418, style:{text:'B-site', verticalAlign:'middle', fontFamily:FONT, fontSize:15, fill:RED}}
  ]
};
const chart = echarts.init(document.getElementById('c'), null, {renderer:'canvas'});
chart.setOption(option);
</script>
</body></html>
